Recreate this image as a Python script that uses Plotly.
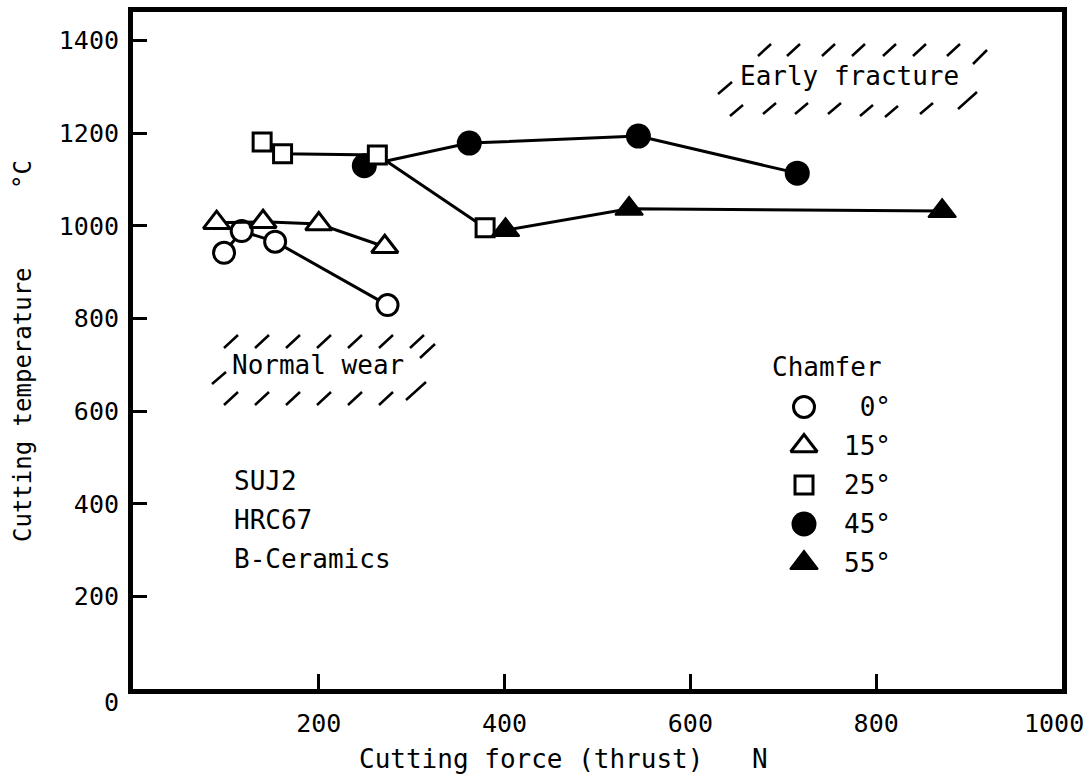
import plotly.graph_objects as go

# ---------------- data ----------------
deg0_force = [98, 117, 153, 274]
deg0_temp = [942, 989, 966, 829]

deg15_force = [90, 140, 200, 271]
deg15_temp = [1007, 1009, 1004, 955]

deg25_force = [139, 161, 263, 379]
deg25_temp = [1181, 1156, 1153, 996]

deg45_force = [249, 362, 544, 715]
deg45_temp = [1130, 1179, 1194, 1114]

deg55_force = [401, 534, 871]
deg55_temp = [991, 1037, 1032]

x_tickvals = [200, 400, 600, 800, 1000]
x_ticktext = ["200", "400", "600", "800", ""]   # "1000" drawn as corner text below
y_tickvals = [200, 400, 600, 800, 1000, 1200, 1400]
y_ticktext = ["200", "400", "600", "800", "1000", "1200", "1400"]

chamfer_labels = ["\u00a00°", "15°", "25°", "45°", "55°"]
note_lines = ["SUJ2", "HRC67", "B-Ceramics"]

# ---------------- layout constants ----------------
W, H = 1090, 779
ML, MR, MT, MB = 133, 28, 12, 90
PW, PH = W - ML - MR, H - MT - MB
X_RANGE = [0, 1000]
Y_RANGE = [0, 1462]
FONT = "DejaVu Sans Mono"
BLACK = "#000000"


def pxp(px):  # pixel x -> paper x
    return (px - ML) / PW


def pyp(py):  # pixel y -> paper y
    return (H - MB - py) / PH


def pxd(px):  # pixel x -> data x
    return X_RANGE[0] + (px - ML) / PW * (X_RANGE[1] - X_RANGE[0])


def pyd(py):  # pixel y -> data y
    return Y_RANGE[0] + (H - MB - py) / PH * (Y_RANGE[1] - Y_RANGE[0])


styles = {
    "0": dict(symbol="circle", size=21, color="white", line=dict(color=BLACK, width=3)),
    "15": dict(symbol="triangle-up", size=23, color="white", line=dict(color=BLACK, width=3)),
    "25": dict(symbol="square", size=18, color="white", line=dict(color=BLACK, width=3)),
    "45": dict(symbol="circle", size=25, color=BLACK, line=dict(color=BLACK, width=0)),
    "55": dict(symbol="triangle-up", size=24, color=BLACK, line=dict(color=BLACK, width=2)),
}

fig = go.Figure()

series = [
    ("0", deg0_force, deg0_temp),
    ("15", deg15_force, deg15_temp),
    ("45", deg45_force, deg45_temp),
    ("25", deg25_force, deg25_temp),
    ("55", deg55_force, deg55_temp),
]
for key, xs, ys in series:
    fig.add_trace(go.Scatter(
        x=xs, y=ys, mode="lines+markers",
        line=dict(color=BLACK, width=3),
        marker=styles[key], showlegend=False, hoverinfo="skip",
        cliponaxis=False,
    ))

# ---------------- custom legend (Chamfer) ----------------
LEG_SYM_PX = 804
LEG_TEXT_RIGHT_PX = 893
LEG_TITLE_LEFT_PX = 770
LEG_TITLE_PY = 367
LEG_ROW0_PY = 407
LEG_STEP = 39
legend_keys = ["0", "15", "25", "45", "55"]
for i, key in enumerate(legend_keys):
    row_py = LEG_ROW0_PY + i * LEG_STEP
    fig.add_trace(go.Scatter(
        x=[pxd(LEG_SYM_PX)], y=[pyd(row_py)], mode="markers",
        marker=styles[key], showlegend=False, hoverinfo="skip",
    ))

annotations = []


def add_text(text, px, py, size=26, xanchor="center", angle=0):
    annotations.append(dict(
        text=text, x=pxp(px), y=pyp(py), xref="paper", yref="paper",
        xanchor=xanchor, yanchor="middle", showarrow=False, textangle=angle,
        font=dict(family=FONT, size=size, color=BLACK),
    ))


add_text("Chamfer", LEG_TITLE_LEFT_PX, LEG_TITLE_PY, xanchor="left")
for i, lab in enumerate(chamfer_labels):
    add_text(lab, LEG_TEXT_RIGHT_PX, LEG_ROW0_PY + i * LEG_STEP, xanchor="right")

NOTES_LEFT_PX = 232
for i, line in enumerate(note_lines):
    add_text(line, NOTES_LEFT_PX, LEG_ROW0_PY + (i + 2) * LEG_STEP - 4, xanchor="left")

add_text("Early fracture", 849, 76)
add_text("Normal wear", 318, 365)
add_text("0", 111, 702, size=25)
add_text("1000", 1054, 723, size=25)
add_text("Cutting force (thrust)", 357, 759, xanchor="left")
add_text("N", 760, 759)
add_text("Cutting temperature", 23, 405, size=24, angle=-90)
add_text("°C", 23, 175, size=24, angle=-90)

# ---------------- hatch decorations (pixel segments) ----------------
hatch = []
# Early fracture
for x0 in [758, 787, 822, 852, 883, 913, 947]:
    hatch.append((x0, 56, x0 + 13, 44))
hatch.append((973, 64, 987, 50))
hatch.append((718, 94, 732, 82))
for x0, y0 in [(730, 116), (763, 114), (795, 114), (828, 114), (860, 116), (885, 117), (920, 114)]:
    hatch.append((x0, y0, x0 + 13, y0 - 11))
hatch.append((958, 109, 977, 92))
# Normal wear
for i in range(7):
    x0 = 224 + 31 * i
    hatch.append((x0, 348, x0 + 14, 335))
hatch.append((420, 358, 435, 344))
hatch.append((212, 384, 226, 372))
for i in range(6):
    x0 = 224 + 31 * i
    hatch.append((x0, 405, x0 + 14, 392))
hatch.append((406, 400, 426, 382))

shapes = [dict(type="line", xref="paper", yref="paper",
               x0=pxp(a), y0=pyp(b), x1=pxp(c), y1=pyp(d),
               line=dict(color=BLACK, width=2.5)) for a, b, c, d in hatch]

axis_common = dict(
    showline=True, linewidth=5, linecolor=BLACK, mirror=True,
    ticks="inside", tickwidth=3, tickcolor=BLACK,
    showgrid=False, zeroline=False, automargin=False,
    tickfont=dict(family=FONT, size=25, color=BLACK),
)

fig.update_layout(
    width=W, height=H,
    margin=dict(l=ML, r=MR, t=MT, b=MB, pad=0, autoexpand=False),
    paper_bgcolor="white", plot_bgcolor="white",
    showlegend=False,
    xaxis=dict(range=X_RANGE, tickvals=x_tickvals, ticktext=x_ticktext,
               ticklen=15, ticklabelstandoff=8, **axis_common),
    yaxis=dict(range=Y_RANGE, tickvals=y_tickvals, ticktext=y_ticktext,
               ticklen=14, ticklabelstandoff=4, **axis_common),
    annotations=annotations,
    shapes=shapes,
)

fig.write_html("out.html")
